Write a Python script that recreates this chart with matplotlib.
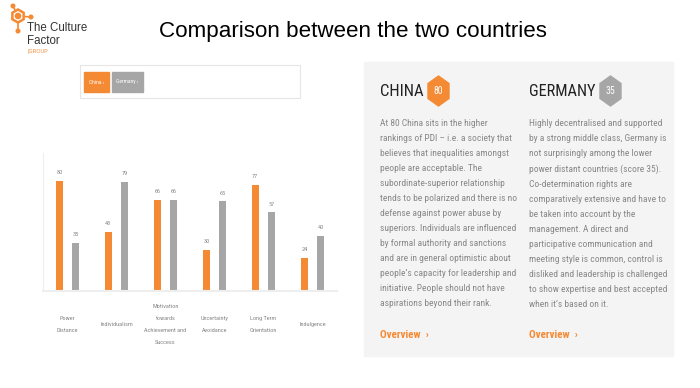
import numpy as np
import matplotlib.pyplot as plt
from matplotlib import font_manager
from matplotlib.patches import Rectangle, Polygon, Circle

ORANGE = '#f58a34'
GREY = '#a6a6a6'
TXT = '#888888'

# Hofstede dimension scores
categories = ['Power\nDistance', 'Individualism', 'Motivation\ntowards\nAchievement and\nSuccess',
              'Uncertainty\nAvoidance', 'Long Term\nOrientation', 'Indulgence']
china = [80, 43, 66, 30, 77, 24]
germany = [35, 79, 66, 65, 57, 40]

china_text = ("At 80 China sits in the higher\nrankings of PDI \u2013 i.e. a society that\n"
              "believes that inequalities amongst\npeople are acceptable. The\n"
              "subordinate-superior relationship\ntends to be polarized and there is no\n"
              "defense against power abuse by\nsuperiors. Individuals are influenced\n"
              "by formal authority and sanctions\nand are in general optimistic about\n"
              "people\u2019s capacity for leadership and\ninitiative. People should not have\n"
              "aspirations beyond their rank.")
germany_text = ("Highly decentralised and supported\nby a strong middle class, Germany is\n"
                "not surprisingly among the lower\npower distant countries (score 35).\n"
                "Co-determination rights are\ncomparatively extensive and have to\n"
                "be taken into account by the\nmanagement. A direct and\n"
                "participative communication and\nmeeting style is common, control is\n"
                "disliked and leadership is challenged\nto show expertise and best accepted\n"
                "when it\u2019s based on it.")

names = {f.name for f in font_manager.fontManager.ttflist}
narrow = [n for n in ['Liberation Sans Narrow', 'DejaVu Sans Condensed', 'Roboto Condensed'] if n in names]
BODY = (narrow[:1] or ['Roboto']) + ['DejaVu Sans']

W, H = 700, 388
plt.rcParams['font.family'] = BODY

fig = plt.figure(figsize=(W / 100, H / 100), dpi=100)
fig.patch.set_facecolor('white')

# full-figure overlay in pixel coordinates
bg = fig.add_axes([0, 0, 1, 1])
bg.set_xlim(0, W)
bg.set_ylim(H, 0)
bg.axis('off')

# logo
hx, hy = 18, 16
ang = np.deg2rad(np.arange(6) * 60 + 30)
for ex, ey in [(13, 6), (31, 17), (18, 31)]:
    bg.plot([hx, ex], [hy, ey], color=ORANGE, lw=1.2, zorder=1)
    bg.add_patch(Circle((ex, ey), 1.8, color=ORANGE))
bg.add_patch(Polygon(np.c_[hx + 6.5 * np.cos(ang), hy + 6.5 * np.sin(ang)],
                     closed=True, fc='white', ec=ORANGE, lw=1.8, zorder=2))
bg.add_patch(Circle((hx, hy), 2.6, color=ORANGE, zorder=3))
bg.text(27, 28, 'The Culture', fontsize=8.3, color='#333333', va='center', family='Liberation Sans')
bg.text(27, 41, 'Factor', fontsize=8.3, color='#333333', va='center', family='Liberation Sans')
bg.text(27, 51.5, '|GROUP', fontsize=3.8, color=ORANGE, va='center', family='Liberation Sans')

# title
bg.text(353, 32, 'Comparison between the two countries', fontsize=16.1, color='black',
        ha='center', va='center', family='Liberation Sans')

# legend buttons
bg.add_patch(Rectangle((80, 65), 220, 33, fill=False, ec='#e6e6e6', lw=0.8))
bg.add_patch(Rectangle((84, 72), 25, 20, color=ORANGE))
bg.add_patch(Rectangle((112, 72), 31, 20, color=GREY))
bg.text(96.5, 82, 'China \u203a', fontsize=4, color='white', ha='center', va='center')
bg.text(127.5, 82, 'Germany \u203a', fontsize=4, color='white', ha='center', va='center')

# right panel
bg.add_patch(Rectangle((364, 62), 309, 294, color='#f4f4f4', zorder=0))
bg.text(380, 92, 'CHINA', fontsize=12, color='#222222', va='center')
bg.text(529, 92, 'GERMANY', fontsize=11.7, color='#222222', va='center')
for cx, col, val in [(438.5, ORANGE, china[0]), (610.5, GREY, germany[0])]:
    a = np.deg2rad(np.arange(6) * 60 + 90)
    bg.add_patch(Polygon(np.c_[cx + 10.5 * np.cos(a) / np.cos(np.deg2rad(30)), 91 + 15 * np.sin(a)],
                         closed=True, color=col))
    bg.text(cx, 91.5, str(val), fontsize=7, color='white', ha='center', va='center')
bg.text(380, 119, china_text, fontsize=6.8, color=TXT, va='top', linespacing=1.86)
bg.text(529, 119, germany_text, fontsize=6.8, color=TXT, va='top', linespacing=1.86)
bg.text(380, 335, 'Overview  \u203a', fontsize=8, color=ORANGE, va='center', fontweight='bold')
bg.text(529, 335, 'Overview  \u203a', fontsize=8, color=ORANGE, va='center', fontweight='bold')

# bar chart
x0, x1, y0, y1 = 43, 337, 153, 291
ax = fig.add_axes([x0 / W, 1 - y1 / H, (x1 - x0) / W, (y1 - y0) / H])
ax.patch.set_alpha(0)
x = np.arange(len(categories))
off, bw = 0.165, 0.14
b1 = ax.bar(x - off, china, bw, color=ORANGE)
b2 = ax.bar(x + off, germany, bw, color=GREY)
for bars in (b1, b2):
    for b in bars:
        ax.text(b.get_x() + b.get_width() / 2, b.get_height() + 4, str(int(b.get_height())),
                fontsize=4.5, color=TXT, ha='center', va='bottom')
ax.set_xlim(-0.5, len(categories) - 0.5)
ax.set_ylim(0, 100)
ax.set_xticks([])
ax.set_yticks([])
for s in ['top', 'right']:
    ax.spines[s].set_visible(False)
ax.spines['left'].set_color('#eeeeee')
ax.spines['bottom'].set_color('#eeeeee')
ax.spines['bottom'].set_linewidth(1.5)
for i, lab in enumerate(categories):
    ax.annotate(lab, (i, 0), xytext=(0, -24), textcoords='offset points',
                fontsize=4.5, color=TXT, ha='center', va='center', linespacing=2.75,
                annotation_clip=False)

fig.savefig('out.png', dpi=100)
